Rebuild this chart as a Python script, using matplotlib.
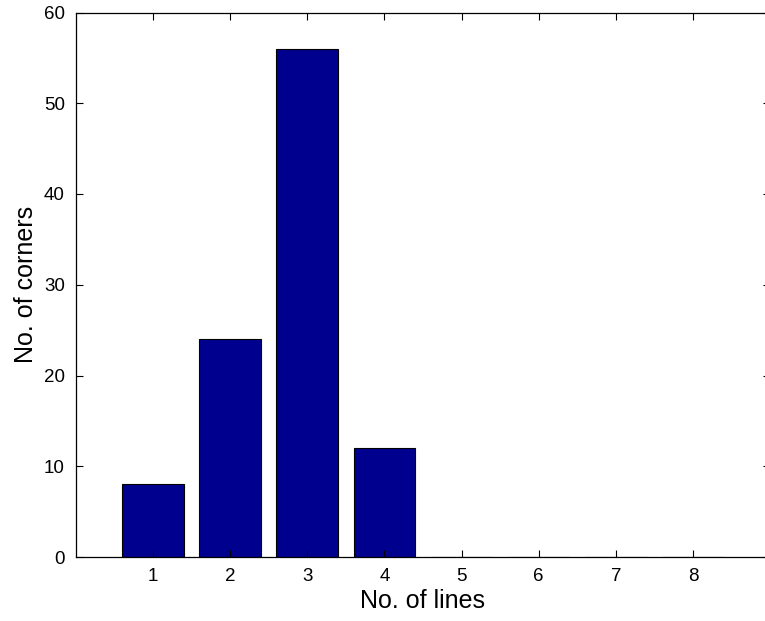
import matplotlib.pyplot as plt

# Data
lines = [1, 2, 3, 4, 5, 6, 7, 8]
corners = [8, 24, 56, 12, 0, 0, 0, 0]

plt.rcParams['font.family'] = ['Liberation Sans', 'DejaVu Sans']

fig = plt.figure(figsize=(7.65, 6.21), dpi=100)
# axes run past the right edge of the picture, like the cropped original
ax = fig.add_axes([76 / 765, 1 - 557 / 621, 694 / 765, (557 - 12.5) / 621])

ax.bar(lines, corners, width=0.8, color='#00008F', edgecolor='black', linewidth=0.8)

ax.set_xlim(0, 9)
ax.set_ylim(0, 60)
ax.set_xticks(lines)
ax.set_yticks(range(0, 61, 10))
ax.tick_params(direction='in', top=True, right=True, labelsize=13.5, length=5, pad=8)
for s in ax.spines.values():
    s.set_linewidth(0.9)

ax.set_xlabel('No. of lines', fontsize=18, labelpad=3)
ax.set_ylabel('No. of corners', fontsize=18, labelpad=4)

fig.savefig('out.png', dpi=100)
